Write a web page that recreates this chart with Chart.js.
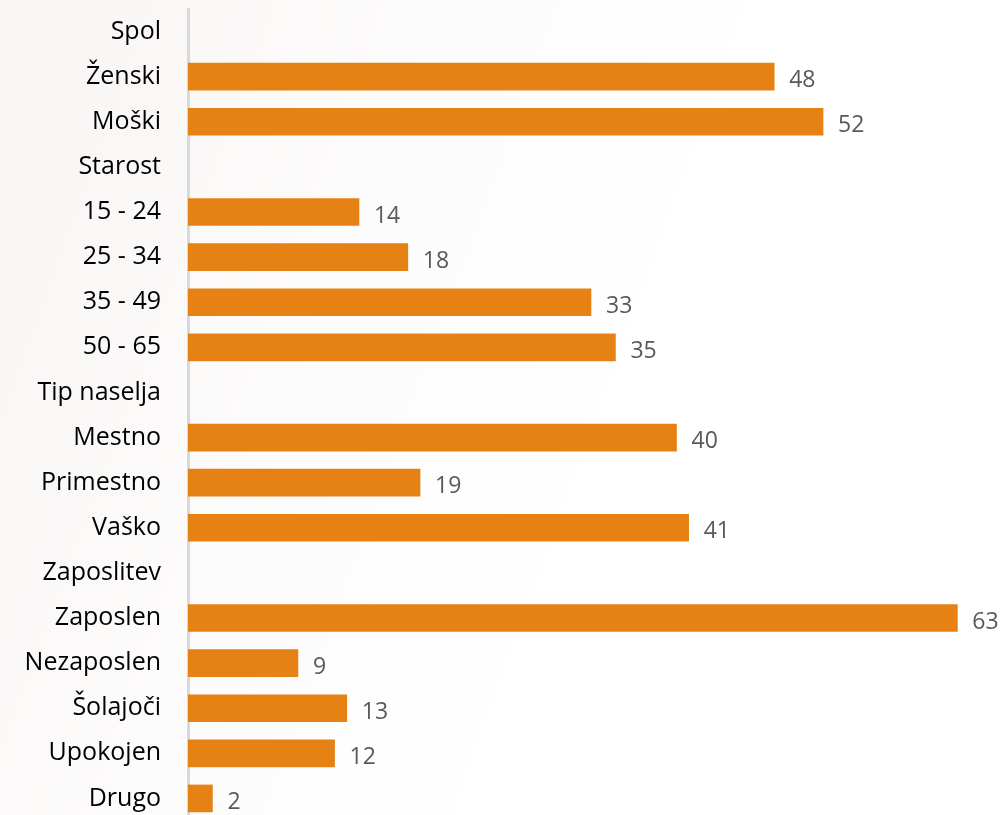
<!DOCTYPE html>
<html>
<head>
<meta charset="utf-8">
<script src="https://cdn.jsdelivr.net/npm/chart.js@4"></script>
<style>
  html, body { margin: 0; padding: 0; overflow: hidden; }
  body { width: 1004px; height: 815px; background: linear-gradient(110deg, #f8f5f3 0%, #fdfcfc 35%, #ffffff 60%); }
  #wrap { width: 1004px; height: 821px; }
</style>
</head>
<body>
<div id="wrap"><canvas id="chart" width="1004" height="821"></canvas></div>
<script>
// categories (group headers have no value)
const categories = ['Spol', 'Ženski', 'Moški', 'Starost', '15 - 24', '25 - 34', '35 - 49', '50 - 65',
  'Tip naselja', 'Mestno', 'Primestno', 'Vaško', 'Zaposlitev', 'Zaposlen', 'Nezaposlen', 'Šolajoči', 'Upokojen', 'Drugo'];
const values = [null, 48, 52, null, 14, 18, 33, 35, null, 40, 19, 41, null, 63, 9, 13, 12, 2];

const barColor = '#e58213';

// value labels to the right of the bars
const valueLabels = {
  id: 'valueLabels',
  afterDatasetsDraw(chart) {
    const ctx = chart.ctx;
    const meta = chart.getDatasetMeta(0);
    ctx.save();
    ctx.font = '23px "Open Sans"';
    ctx.fillStyle = '#595959';
    ctx.textAlign = 'left';
    ctx.textBaseline = 'middle';
    meta.data.forEach((bar, i) => {
      if (values[i] == null) return;
      ctx.fillText(values[i], bar.x + 15, bar.y + 4);
    });
    ctx.restore();
  }
};

new Chart(document.getElementById('chart').getContext('2d'), {
  type: 'bar',
  data: {
    labels: categories,
    datasets: [{
      data: values,
      backgroundColor: barColor,
      borderWidth: 0,
      barThickness: 27
    }]
  },
  options: {
    indexAxis: 'y',
    responsive: false,
    animation: false,
    layout: { padding: { top: 9, right: 10, bottom: 0, left: 0 } },
    scales: {
      x: {
        display: false,
        min: 0,
        max: 66
      },
      y: {
        grid: { display: false, drawTicks: false },
        border: { display: true, color: '#d9d9d9', width: 3 },
        ticks: {
          color: '#000000',
          font: { family: 'Open Sans', size: 25 },
          padding: 27,
          autoSkip: false
        },
        afterFit(scale) {
          scale.width = 188;
          scale.paddingTop = 0;
          scale.paddingBottom = 0;
        }
      }
    },
    plugins: {
      legend: { display: false },
      tooltip: { enabled: false }
    }
  },
  plugins: [valueLabels]
});
</script>
</body>
</html>
